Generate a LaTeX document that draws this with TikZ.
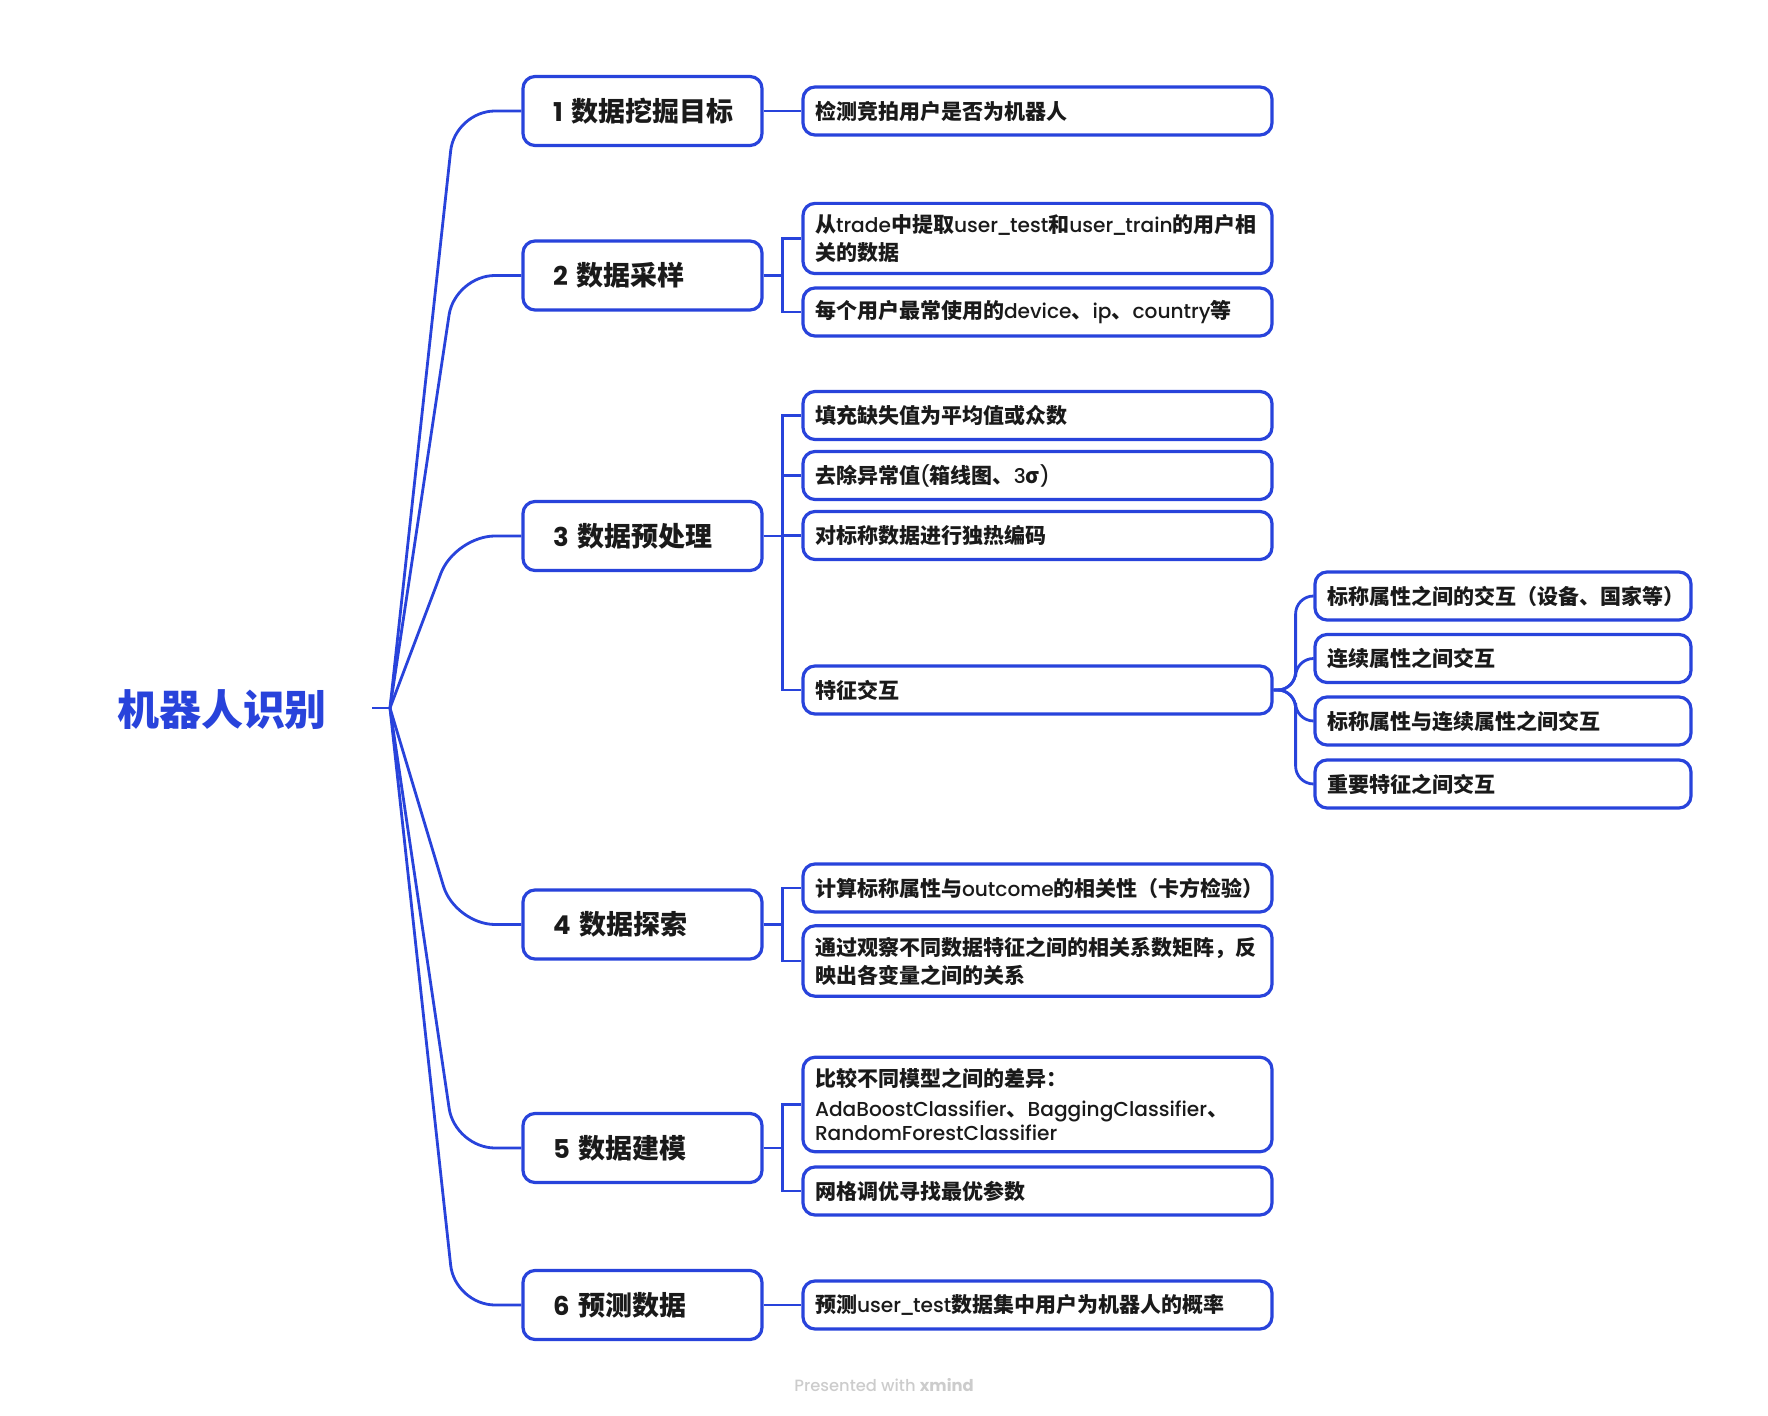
\documentclass[tikz,border=0pt]{standalone}
\usepackage{fontspec}
\setmainfont{Noto Sans CJK SC}
\IfFontExistsTF{Poppins Medium}
	{\newfontfamily\lat{Poppins}[UprightFont={Poppins Medium},BoldFont={Poppins Bold},Scale=0.96]}
	{\newfontfamily\lat{Poppins}[Scale=0.96]}
\newcommand\en[1]{{\lat\mdseries #1}}
\newcommand\us{\kern-1pt\_\kern-1pt}
\definecolor{xblue}{RGB}{40,67,219}
\definecolor{ink}{RGB}{26,26,26}
\begin{document}
\begin{tikzpicture}[x=0.5pt,y=-0.5pt,
	link/.style={draw=xblue,line width=1.4pt},
	topic/.style={draw=xblue,line width=1.6pt,rounded corners=6pt,fill=white,text=ink,
		minimum width=119.5pt,text width=89.5pt,inner xsep=15pt,inner ysep=0pt,minimum height=34.5pt,
		align=left,font=\fontsize{13.5}{16}\selectfont\bfseries,
		execute at begin node=\hbox\bgroup,execute at end node=\egroup},
	leaf/.style={draw=xblue,line width=1.6pt,rounded corners=6pt,fill=white,text=ink,
		minimum width=234.5pt,text width=222.5pt,inner xsep=6pt,inner ysep=5.5pt,minimum height=24pt,
		align=left,font=\fontsize{10.5}{14}\selectfont\bfseries},
	subleaf/.style={leaf,minimum width=188pt,text width=176pt}]
	\useasboundingbox (0,0) rectangle (1768,1416);
	\node[text=xblue,font=\fontsize{21}{24}\selectfont\bfseries] (root) at (222,710) {机器人识别};
	\coordinate (rootout) at (372,708);
	\coordinate (hub) at (390,708);
	\coordinate (knee) at (455,708);
	\node[topic] (g1) at (642.5,111) {{\lat 1} 数据挖掘目标};
	\node[topic] (g2) at (642.5,275.5) {{\lat 2} 数据采样};
	\node[topic] (g3) at (642.5,536) {{\lat 3} 数据预处理};
	\node[topic] (g4) at (642.5,924.5) {{\lat 4} 数据探索};
	\node[topic] (g5) at (642.5,1148) {{\lat 5} 数据建模};
	\node[topic] (g6) at (642.5,1305) {{\lat 6} 预测数据};
	\node[leaf] (a1) at (1037.5,111) {检测竞拍用户是否为机器人};
	\node[leaf] (b1) at (1037.5,238.5) {从\en{trade}中提取\en{user\us test}和\en{user\us train}的用户相\\关的数据};
	\node[leaf] (b2) at (1037.5,312) {每个用户最常使用的\en{device}、\en{ip}、\en{country}等};
	\node[leaf] (c1) at (1037.5,415.5) {填充缺失值为平均值或众数};
	\node[leaf] (c2) at (1037.5,475.5) {去除异常值\en{(}箱线图、\en{3}σ\en{)}};
	\node[leaf] (c3) at (1037.5,535.5) {对标称数据进行独热编码};
	\node[leaf] (c4) at (1037.5,690) {特征交互};
	\node[leaf] (d1) at (1037.5,888) {计算标称属性与\en{outcome}的相关性（卡方检验）};
	\node[leaf] (d2) at (1037.5,961) {通过观察不同数据特征之间的相关系数矩阵，反\\映出各变量之间的关系};
	\node[leaf] (e1) at (1037.5,1104.5) {比较不同模型之间的差异：\\[1pt]\en{AdaBoostClassifier}、\en{BaggingClassifier}、\\[-2pt]\en{RandomForestClassifier}};
	\node[leaf] (e2) at (1037.5,1191) {网格调优寻找最优参数};
	\node[leaf] (f1) at (1037.5,1305) {预测\en{user\us test}数据集中用户为机器人的概率};
	\node[subleaf] (h1) at (1503,596) {标称属性之间的交互（设备、国家等）};
	\node[subleaf] (h2) at (1503,658.5) {连续属性之间交互};
	\node[subleaf] (h3) at (1503,721) {标称属性与连续属性之间交互};
	\node[subleaf] (h4) at (1503,784) {重要特征之间交互};
	\node[text=black!20,font=\lat\fontsize{8.5}{10}\selectfont] (mark) at (884,1385) {Presented with \textbf{xmind}};
	\draw[link] (rootout) -- (hub);
	\foreach \g in {g1,g2,g3,g4,g5,g6}
		\draw[link,rounded corners=20pt] (hub) -- (\g.west -| knee) -- (\g.west);
	\draw[link] (g1.east) -- (a1.west);
	\foreach \c in {b1,b2}
		\draw[link] (g2.east) -- ++(19,0) |- (\c.west);
	\foreach \c in {c1,c2,c3,c4}
		\draw[link] (g3.east) -- ++(19,0) |- (\c.west);
	\foreach \c in {d1,d2}
		\draw[link] (g4.east) -- ++(19,0) |- (\c.west);
	\foreach \c in {e1,e2}
		\draw[link] (g5.east) -- ++(19,0) |- (\c.west);
	\draw[link] (g6.east) -- (f1.west);
	\foreach \h in {h1,h2,h3,h4}
		\draw[link,rounded corners=9pt] (c4.east) -- ++(22,0) |- (\h.west);
\end{tikzpicture}
\end{document}
